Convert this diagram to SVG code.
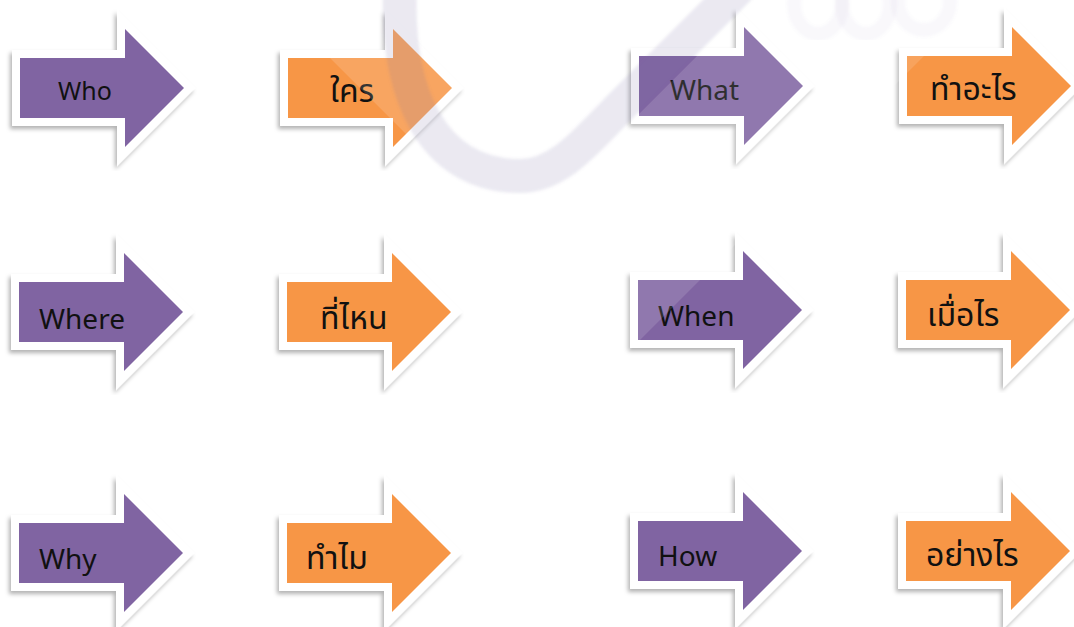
<svg xmlns="http://www.w3.org/2000/svg" xmlns:xlink="http://www.w3.org/1999/xlink" width="1074" height="627" viewBox="0 0 1074 627">
<style>
.frame{fill:#ffffff;stroke:#ffffff;stroke-width:16;stroke-linejoin:miter;stroke-miterlimit:4}
.purple{fill:#8064A2}
.orange{fill:#F79646}
.en{font-family:"Noto Sans","Open Sans","DejaVu Sans",sans-serif;font-size:28px;fill:#111111}
.th{font-family:"Noto Sans Thai","Leelawadee UI",Tahoma,"Noto Sans","DejaVu Sans",sans-serif;font-size:32px;fill:#111111}
</style>
<defs>
<path id="arrow" d="M0,-30 H105 V-59 L164,0 L105,59 V30 H0 Z"/>
<filter id="shadow" x="-20%" y="-20%" width="140%" height="140%">
<feDropShadow dx="-2" dy="3" stdDeviation="2" flood-color="#000000" flood-opacity="0.3"/>
</filter>
<filter id="soft" x="-10%" y="-10%" width="120%" height="120%">
<feGaussianBlur stdDeviation="1.5"/>
</filter>
</defs>
<rect x="0" y="0" width="1074" height="627" fill="#ffffff"/>

<g id="who" transform="translate(20,88)"><use xlink:href="#arrow" class="frame" filter="url(#shadow)"/><use xlink:href="#arrow" class="purple"/><text class="en" x="38" y="12" style="font-size:25px">Who</text></g>
<g id="khrai" transform="translate(288,88)"><use xlink:href="#arrow" class="frame" filter="url(#shadow)"/><use xlink:href="#arrow" class="orange"/><text class="th" x="42" y="14">ใคร</text></g>
<g id="what" transform="translate(639,86)"><use xlink:href="#arrow" class="frame" filter="url(#shadow)"/><use xlink:href="#arrow" class="purple"/><text class="en" x="31" y="14">What</text></g>
<g id="tham-arai" transform="translate(907,86)"><use xlink:href="#arrow" class="frame" filter="url(#shadow)"/><use xlink:href="#arrow" class="orange"/><text class="th" x="23" y="14">ทำอะไร</text></g>

<g id="where" transform="translate(19,312)"><use xlink:href="#arrow" class="frame" filter="url(#shadow)"/><use xlink:href="#arrow" class="purple"/><text class="en" x="20" y="17">Where</text></g>
<g id="thi-nai" transform="translate(287,312)"><use xlink:href="#arrow" class="frame" filter="url(#shadow)"/><use xlink:href="#arrow" class="orange"/><text class="th" x="33" y="17">ที่ไหน</text></g>
<g id="when" transform="translate(638,310)"><use xlink:href="#arrow" class="frame" filter="url(#shadow)"/><use xlink:href="#arrow" class="purple"/><text class="en" x="20" y="16">When</text></g>
<g id="muea-rai" transform="translate(906,310)"><use xlink:href="#arrow" class="frame" filter="url(#shadow)"/><use xlink:href="#arrow" class="orange"/><text class="th" x="21" y="16">เมื่อไร</text></g>

<g id="why" transform="translate(19,553)"><use xlink:href="#arrow" class="frame" filter="url(#shadow)"/><use xlink:href="#arrow" class="purple"/><text class="en" x="20" y="16">Why</text></g>
<g id="thammai" transform="translate(287,553)"><use xlink:href="#arrow" class="frame" filter="url(#shadow)"/><use xlink:href="#arrow" class="orange"/><text class="th" x="19" y="16">ทำไม</text></g>
<g id="how" transform="translate(638,551)"><use xlink:href="#arrow" class="frame" filter="url(#shadow)"/><use xlink:href="#arrow" class="purple"/><text class="en" x="20" y="15">How</text></g>
<g id="yang-rai" transform="translate(906,551)"><use xlink:href="#arrow" class="frame" filter="url(#shadow)"/><use xlink:href="#arrow" class="orange"/><text class="th" x="20" y="15">อย่างไร</text></g>

<g id="connectors"></g>

<g id="watermark" pointer-events="none">
<polygon points="272,0 470,198 560,198 560,0" fill="#ffffff" fill-opacity="0.15"/>
<polygon points="753,0 980,0 600,380 560,340 560,193" fill="#ffffff" fill-opacity="0.13"/>
<path d="M400,-10 C396,90 430,176 520,176 C560,176 590,137 620,107 L740,-13" fill="none" stroke="#7A6A9E" stroke-opacity="0.15" stroke-width="34" filter="url(#soft)"/>
<g fill="none" stroke="#8A7FB0" stroke-opacity="0.05" stroke-width="14" filter="url(#soft)">
<ellipse cx="818" cy="4" rx="24" ry="30"/>
<ellipse cx="866" cy="4" rx="24" ry="30"/>
<ellipse cx="924" cy="2" rx="26" ry="28"/>
</g>
</g>
</svg>
